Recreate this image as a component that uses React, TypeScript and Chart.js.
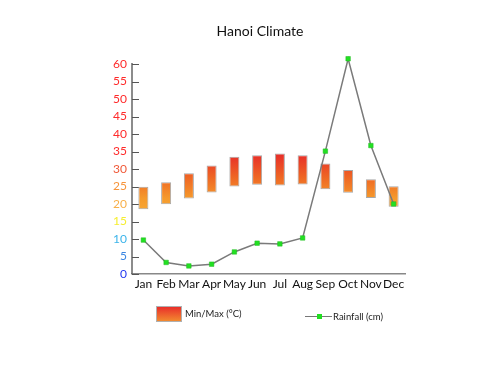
import React, { useEffect, useRef } from "react";
import { Chart, registerables } from "chart.js";

Chart.register(...registerables);

const months = ["Jan", "Feb", "Mar", "Apr", "May", "Jun", "Jul", "Aug", "Sep", "Oct", "Nov", "Dec"];
const tempMin = [18.5, 19.9, 21.6, 23.3, 25.0, 25.5, 25.3, 25.6, 24.2, 23.2, 21.7, 19.2];
const tempMax = [24.9, 26.2, 28.8, 31.0, 33.5, 33.9, 34.4, 33.9, 31.6, 29.7, 27.1, 25.1];
const rainfall = [9.7, 3.3, 2.3, 2.8, 6.3, 8.8, 8.6, 10.3, 35.1, 61.5, 36.7, 20.0];
const yTicks = [0, 5, 10, 15, 20, 25, 30, 35, 40, 45, 50, 55, 60];

const FONT = "Lato, 'Open Sans', sans-serif";

function tickColor(v: number): string {
  if (v >= 35) return "#ff2a2a";
  if (v >= 30) return "#f05a3a";
  if (v >= 25) return "#f7943a";
  if (v >= 20) return "#f8b04a";
  if (v >= 15) return "#f6ee30";
  if (v >= 10) return "#3cb4ea";
  if (v >= 5) return "#3a86e2";
  return "#2238f0";
}

function makeGradient(chart: any) {
  const { ctx, chartArea, scales } = chart;
  if (!chartArea) return "#f5a030";
  const y = scales.y;
  const g = ctx.createLinearGradient(0, y.getPixelForValue(36), 0, y.getPixelForValue(18));
  g.addColorStop(0, "#e51e2a");
  g.addColorStop(0.45, "#ee6424");
  g.addColorStop(0.8, "#f59a2c");
  g.addColorStop(1, "#f7a835");
  return g;
}

const decorPlugin = {
  id: "decor",
  beforeDatasetsDraw(chart: any) {
    const { ctx, chartArea, scales } = chart;
    const y = scales.y;
    ctx.save();
    // y axis line
    ctx.strokeStyle = "#666";
    ctx.lineWidth = 1.5;
    ctx.beginPath();
    ctx.moveTo(chartArea.left, chartArea.bottom);
    ctx.lineTo(chartArea.left, y.getPixelForValue(60) - 1);
    ctx.stroke();
    // inner tick marks
    ctx.strokeStyle = "#555";
    ctx.lineWidth = 1;
    yTicks.forEach((v) => {
      const py = Math.round(y.getPixelForValue(v)) + 0.5;
      ctx.beginPath();
      ctx.moveTo(chartArea.left, py);
      ctx.lineTo(chartArea.left + 7, py);
      ctx.stroke();
    });
    ctx.restore();
  },
  afterDraw(chart: any) {
    const { ctx } = chart;
    ctx.save();
    // title
    ctx.fillStyle = "#111";
    ctx.font = "14px " + FONT;
    ctx.textAlign = "center";
    ctx.textBaseline = "middle";
    ctx.fillText("Hanoi Climate", 260, 31);
    // legend: min/max
    const g = ctx.createLinearGradient(0, 306, 0, 322);
    g.addColorStop(0, "#e8282a");
    g.addColorStop(1, "#f39030");
    ctx.fillStyle = g;
    ctx.fillRect(156, 306, 26, 16);
    ctx.strokeStyle = "#b0b0b0";
    ctx.lineWidth = 1;
    ctx.strokeRect(156.5, 306.5, 25, 15);
    ctx.fillStyle = "#222";
    ctx.font = "9.5px " + FONT;
    ctx.textAlign = "left";
    ctx.fillText("Min/Max (°C)", 185, 314);
    // legend: rainfall
    ctx.strokeStyle = "#777";
    ctx.lineWidth = 1;
    ctx.beginPath();
    ctx.moveTo(305, 316.5);
    ctx.lineTo(332, 316.5);
    ctx.stroke();
    ctx.fillStyle = "#22dd22";
    ctx.fillRect(317, 314, 5, 5);
    ctx.fillStyle = "#222";
    ctx.fillText("Rainfall (cm)", 333, 317);
    ctx.restore();
  },
};

export default function App() {
  const ref = useRef<HTMLCanvasElement | null>(null);
  useEffect(() => {
    if (!ref.current) return;
    const chart = new Chart(ref.current, {
      type: "bar",
      data: {
        labels: months,
        datasets: [
          {
            type: "line",
            label: "Rainfall (cm)",
            data: rainfall,
            borderColor: "#7a7a7a",
            borderWidth: 1.5,
            pointStyle: "rect",
            pointRadius: 3.2,
            pointBackgroundColor: "#22e022",
            pointBorderColor: "#22b822",
            pointBorderWidth: 0.5,
            tension: 0,
            clip: false as any,
            order: 0,
          } as any,
          {
            type: "bar",
            label: "Min/Max (°C)",
            data: months.map((_, i) => [tempMin[i], tempMax[i]]) as any,
            backgroundColor: (c: any) => makeGradient(c.chart),
            borderColor: "#a8a8a8",
            borderWidth: 1,
            borderSkipped: false,
            barPercentage: 0.44,
            categoryPercentage: 1,
            order: 1,
          } as any,
        ],
      },
      options: {
        animation: false,
        responsive: false,
        maintainAspectRatio: false,
        layout: { padding: { left: 0, right: 95, top: 57, bottom: 0 } },
        plugins: {
          legend: { display: false },
          title: { display: false },
          tooltip: { enabled: false },
        },
        scales: {
          x: {
            afterFit: (axis: any) => {
              axis.height = 101;
            },
            grid: { display: false, drawTicks: false },
            border: { display: true, color: "#888", width: 1.5 },
            ticks: {
              color: "#111",
              font: { family: FONT, size: 12 },
              padding: 3,
              maxRotation: 0,
              minRotation: 0,
              autoSkip: false,
            },
          },
          y: {
            min: 0,
            max: 62,
            afterBuildTicks: (axis: any) => {
              axis.ticks = yTicks.map((v) => ({ value: v }));
            },
            afterFit: (axis: any) => {
              axis.width = 132;
            },
            grid: { display: false, drawTicks: false },
            border: { display: false },
            ticks: {
              color: (c: any) => tickColor(c.tick.value),
              font: { family: FONT, size: 12 },
              padding: 5,
            },
          },
        },
      },
      plugins: [decorPlugin],
    });
    return () => chart.destroy();
  }, []);
  return (
    <div style={{ position: "fixed", left: 0, top: 0, width: 500, height: 375, background: "#fff" }}>
      <canvas ref={ref} width={500} height={375} style={{ width: 500, height: 375 }} />
    </div>
  );
}
